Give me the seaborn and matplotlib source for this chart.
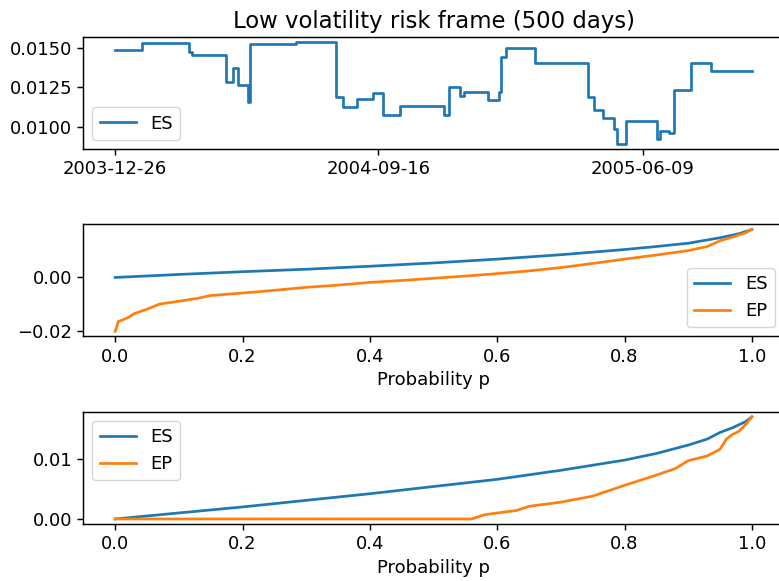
import numpy as np
import pandas as pd
import matplotlib
matplotlib.use("Agg")
import matplotlib.pyplot as plt
import seaborn as sns

# 1. データ
# 上段: ES の時系列（階段状、変化点の日付と値）
es_dates = ["2003-12-26", "2004-01-22", "2004-03-09", "2004-03-12", "2004-04-16",
            "2004-04-23", "2004-04-28", "2004-05-08", "2004-05-10", "2004-06-25",
            "2004-08-04", "2004-08-11", "2004-08-25", "2004-09-11", "2004-09-21",
            "2004-10-08", "2004-11-21", "2004-11-26", "2004-12-07", "2004-12-11",
            "2005-01-04", "2005-01-15", "2005-01-17", "2005-01-22", "2005-02-21",
            "2005-04-15", "2005-04-21", "2005-04-30", "2005-05-11", "2005-05-14",
            "2005-05-23", "2005-06-24", "2005-06-27", "2005-07-06", "2005-07-11",
            "2005-07-28", "2005-08-17", "2005-09-27"]
es_values = [0.01485, 0.01527, 0.01473, 0.01452, 0.01281,
             0.01375, 0.01264, 0.01156, 0.01521, 0.01537,
             0.01191, 0.01125, 0.01177, 0.01214, 0.01077,
             0.01135, 0.01077, 0.01254, 0.01198, 0.01223,
             0.01171, 0.01223, 0.01444, 0.01500, 0.01406,
             0.01188, 0.01108, 0.01058, 0.00989, 0.00896,
             0.01037, 0.00927, 0.00979, 0.00966, 0.01233,
             0.01406, 0.01356, 0.01356]
date_ticks = ["2003-12-26", "2004-09-16", "2005-06-09"]

# 中段: ES / EP vs p
p_es_mid = [0.0, 0.1, 0.2, 0.3, 0.4, 0.5, 0.6, 0.7, 0.8, 0.85, 0.9, 0.95, 0.98, 1.0]
es_mid = [-0.0003, 0.0008, 0.0018, 0.0027, 0.0038, 0.0050, 0.0064, 0.0080,
          0.0099, 0.0110, 0.0122, 0.0142, 0.0157, 0.0172]
p_ep_mid = [0.0, 0.005, 0.02, 0.03, 0.05, 0.07, 0.1, 0.13, 0.15, 0.2, 0.25, 0.3,
            0.35, 0.4, 0.45, 0.5, 0.55, 0.6, 0.65, 0.7, 0.75, 0.8, 0.85, 0.9,
            0.93, 0.95, 0.97, 0.99, 1.0]
ep_mid = [-0.0200, -0.0164, -0.0150, -0.0135, -0.0119, -0.0100, -0.0090, -0.0079,
          -0.0069, -0.0060, -0.0050, -0.0039, -0.0031, -0.0021, -0.0014, -0.0006,
          0.0002, 0.0011, 0.0021, 0.0033, 0.0048, 0.0064, 0.0079, 0.0095,
          0.0110, 0.0131, 0.0145, 0.0160, 0.0173]

# 下段: ES / EP vs p
p_es_low = [0.0, 0.1, 0.2, 0.3, 0.4, 0.5, 0.6, 0.7, 0.8, 0.85, 0.9, 0.93, 0.95,
            0.97, 0.99, 1.0]
es_low = [0.0, 0.0010, 0.0020, 0.0031, 0.0042, 0.0054, 0.0066, 0.0081, 0.0098,
          0.0109, 0.0123, 0.0133, 0.0144, 0.0152, 0.0162, 0.0170]
p_ep_low = [0.0, 0.56, 0.58, 0.6, 0.63, 0.65, 0.7, 0.75, 0.8, 0.85, 0.88, 0.9,
            0.93, 0.95, 0.96, 0.97, 0.98, 0.99, 1.0]
ep_low = [0.0, 0.0, 0.0007, 0.0010, 0.0014, 0.0021, 0.0028, 0.0038, 0.0056,
          0.0073, 0.0084, 0.0097, 0.0105, 0.0116, 0.0133, 0.0141, 0.0146,
          0.0157, 0.0170]

# 2. 描画設定（元画像は約1.3倍のスケール）
s = 1.3
plt.rcParams["font.size"] = 10 * s
plt.rcParams["axes.titlesize"] = 16.4
plt.rcParams["lines.linewidth"] = 1.5 * s
plt.rcParams["axes.linewidth"] = 0.8 * s
plt.rcParams["xtick.major.size"] = 3.5 * s
plt.rcParams["ytick.major.size"] = 3.5 * s
plt.rcParams["xtick.major.width"] = 0.8 * s
plt.rcParams["ytick.major.width"] = 0.8 * s

fig, axes = plt.subplots(3, 1, figsize=(7.79, 5.81), dpi=100)
fig.subplots_adjust(left=0.107, right=1.006, bottom=0.098, top=0.937, hspace=0.67)

# 上段
ax = axes[0]
sns.lineplot(x=pd.to_datetime(es_dates), y=es_values, ax=ax, color="C0",
             label="ES", drawstyle="steps-post")
ax.set_xticks(pd.to_datetime(date_ticks))
ax.set_xticklabels(date_ticks)
ax.set_xlabel("")
ax.set_title("Low volatility risk frame (500 days)")
ax.legend(loc="lower left")

# 中段
ax = axes[1]
sns.lineplot(x=p_es_mid, y=es_mid, ax=ax, color="C0", label="ES")
sns.lineplot(x=p_ep_mid, y=ep_mid, ax=ax, color="C1", label="EP")
ax.set_xlabel("Probability p")
ax.legend(loc="lower right")

# 下段
ax = axes[2]
sns.lineplot(x=p_es_low, y=es_low, ax=ax, color="C0", label="ES")
sns.lineplot(x=p_ep_low, y=ep_low, ax=ax, color="C1", label="EP")
ax.set_xlabel("Probability p")
ax.legend(loc="upper left")

fig.savefig("out.png", dpi=100)
